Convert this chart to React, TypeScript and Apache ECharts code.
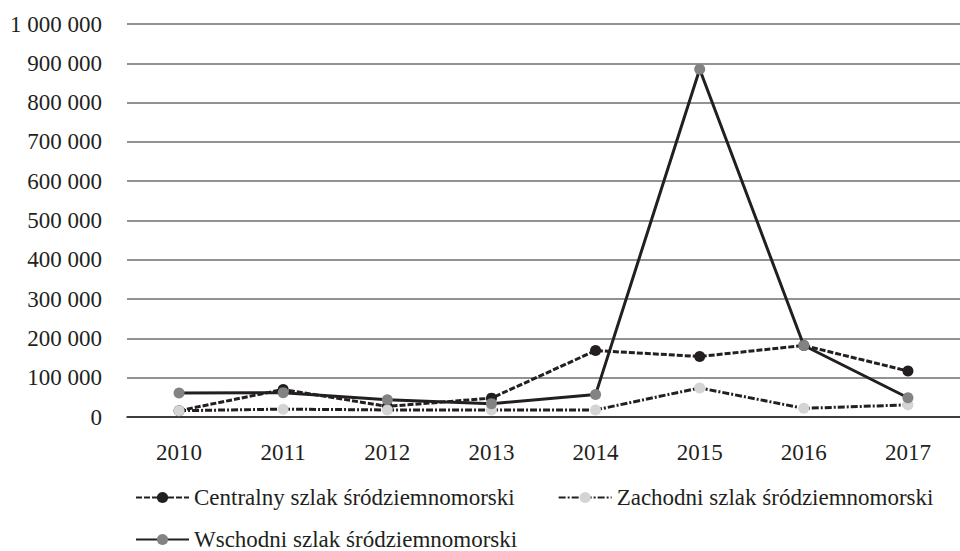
import React, { useEffect, useRef } from "react";
import * as echarts from "echarts";

const years = ["2010", "2011", "2012", "2013", "2014", "2015", "2016", "2017"];
const centralny = [16000, 70000, 27000, 48000, 169000, 154000, 182000, 117000];
const zachodni = [16000, 20000, 18000, 18000, 18000, 74000, 22000, 31000];
const wschodni = [61000, 62000, 44000, 34000, 57000, 885000, 182000, 49000];
const seriesNames = [
  "Centralny szlak śródziemnomorski",
  "Zachodni szlak śródziemnomorski",
  "Wschodni szlak śródziemnomorski",
];

const FONT = "Liberation Serif";
const INK = "#231f20";
const FS = 23;

export default function App() {
  const ref = useRef<HTMLDivElement>(null);
  useEffect(() => {
    if (!ref.current) return;
    const chart = echarts.init(ref.current, null, { renderer: "svg" });
    const fmt = (v: number) =>
      String(Math.round(v)).replace(/\B(?=(\d{3})+(?!\d))/g, " ");
    const legendText = { fontFamily: FONT, fontSize: FS, color: INK };
    chart.setOption({
      animation: false,
      backgroundColor: "#ffffff",
      textStyle: { fontFamily: FONT },
      grid: { left: 127, right: 0, top: 24, bottom: 134 },
      legend: [
        {
          data: [seriesNames[0], seriesNames[1]],
          left: 135,
          top: 486,
          padding: 0,
          itemWidth: 53,
          itemHeight: 14,
          itemGap: 43,
          textStyle: legendText,
        },
        {
          data: [seriesNames[2]],
          left: 135,
          top: 528,
          padding: 0,
          itemWidth: 53,
          itemHeight: 14,
          textStyle: legendText,
        },
      ],
      xAxis: {
        type: "category",
        data: years,
        boundaryGap: true,
        axisLine: { lineStyle: { color: INK, width: 1.5 } },
        axisTick: { show: false },
        axisLabel: {
          fontFamily: FONT,
          fontSize: FS,
          color: INK,
          margin: 24,
        },
      },
      yAxis: {
        type: "value",
        min: 0,
        max: 1000000,
        interval: 100000,
        axisLine: { show: false },
        axisTick: { show: false },
        splitLine: { lineStyle: { color: "#6e6e6e", width: 1.5 } },
        axisLabel: {
          fontFamily: FONT,
          fontSize: FS,
          color: INK,
          margin: 25,
          formatter: fmt,
        },
      },
      series: [
        {
          name: seriesNames[0],
          type: "line",
          data: centralny,
          symbol: "circle",
          symbolSize: 11,
          lineStyle: { color: INK, width: 3, type: [6, 2] },
          itemStyle: { color: INK },
          z: 2,
        },
        {
          name: seriesNames[1],
          type: "line",
          data: zachodni,
          symbol: "circle",
          symbolSize: 11,
          lineStyle: { color: INK, width: 3, type: [7, 2, 2, 2] },
          itemStyle: { color: "#d4d4d4" },
          z: 3,
        },
        {
          name: seriesNames[2],
          type: "line",
          data: wschodni,
          symbol: "circle",
          symbolSize: 11,
          lineStyle: { color: INK, width: 3 },
          itemStyle: { color: "#838383" },
          z: 4,
        },
      ],
    });
    return () => chart.dispose();
  }, []);
  return <div ref={ref} style={{ width: 960, height: 551, position: "absolute", left: 0, top: 0 }} />;
}
